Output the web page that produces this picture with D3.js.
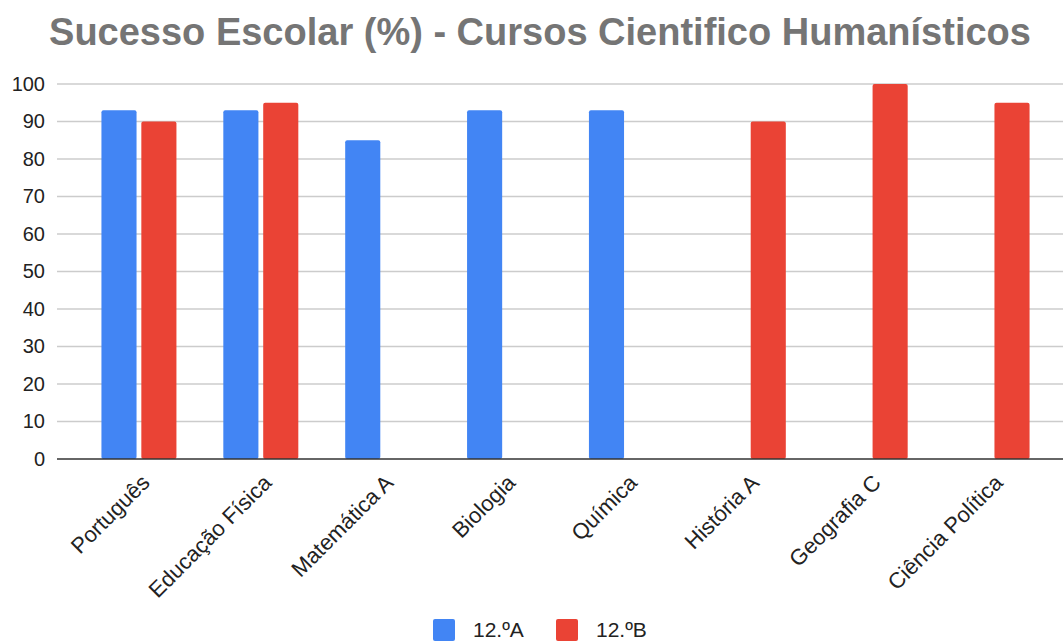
<!DOCTYPE html>
<html>
<head>
<meta charset="utf-8">
<script src="https://cdn.jsdelivr.net/npm/d3@7"></script>
<style>
  body { margin: 0; background: #fff; }
  text { font-family: "Liberation Sans", Arial, sans-serif; }
</style>
</head>
<body>
<div id="chart"></div>
<script>
// chart data
const subjects = ["Português", "Educação Física", "Matemática A", "Biologia",
                  "Química", "História A", "Geografia C", "Ciência Política"];
const series = ["12.ºA", "12.ºB"];
const valuesA = [93, 93, 85, 93, 93, null, null, null];
const valuesB = [90, 95, null, null, null, 90, 100, 95];
const yTicks = [0, 10, 20, 30, 40, 50, 60, 70, 80, 90, 100];
const colors = ["#4285F4", "#EA4335"];

const W = 1063, H = 642;
const plotLeft = 57, plotRight = 1063, plotTop = 84, plotBottom = 459;

const svg = d3.select("#chart").append("svg")
    .attr("width", W)
    .attr("height", H);

// title
svg.append("text")
    .attr("x", 540)
    .attr("y", 45)
    .attr("text-anchor", "middle")
    .style("font-size", "38px")
    .style("font-weight", "bold")
    .style("fill", "#757575")
    .text("Sucesso Escolar (%) - Cursos Cientifico Humanísticos");

// scales
const x = d3.scaleBand()
    .domain(subjects)
    .range([78, 1053]);

const xInner = d3.scaleBand()
    .domain(series)
    .range([0, 75])
    .paddingInner(0.12);

const y = d3.scaleLinear()
    .domain([0, 100])
    .range([plotBottom, plotTop]);

// gridlines
svg.append("g")
    .selectAll("line")
    .data(yTicks.filter(d => d > 0))
    .enter().append("line")
    .attr("x1", plotLeft)
    .attr("x2", plotRight)
    .attr("y1", d => y(d))
    .attr("y2", d => y(d))
    .style("stroke", "#cccccc")
    .style("stroke-width", 1.5);

// y tick labels
const yAxis = svg.append("g")
    .attr("transform", "translate(" + plotLeft + ",0)")
    .call(d3.axisLeft(y).tickValues(yTicks).tickSize(0).tickPadding(12));
yAxis.select(".domain").remove();
yAxis.selectAll("text")
    .style("font-size", "20px")
    .style("fill", "#222")
    .style("font-family", "'Liberation Sans', Arial, sans-serif");

// bars
const rows = subjects.map((s, i) => ({ subject: s, vals: [valuesA[i], valuesB[i]] }));
const offset = (x.bandwidth() - 75) / 2;

const groups = svg.selectAll(".grp")
    .data(rows)
    .enter().append("g")
    .attr("class", "grp")
    .attr("transform", d => "translate(" + (x(d.subject) + offset) + ",0)");

groups.selectAll("rect")
    .data(d => d.vals.map((v, j) => ({ key: series[j], v: v, j: j })).filter(e => e.v != null))
    .enter().append("rect")
    .attr("x", e => xInner(e.key))
    .attr("y", e => y(e.v))
    .attr("width", xInner.bandwidth())
    .attr("height", e => y(0) - y(e.v))
    .attr("rx", 2)
    .style("fill", e => colors[e.j]);

// baseline
svg.append("line")
    .attr("x1", plotLeft)
    .attr("x2", plotRight)
    .attr("y1", y(0))
    .attr("y2", y(0))
    .style("stroke", "#333")
    .style("stroke-width", 1.5);

// x labels, rotated
svg.append("g")
    .selectAll("text")
    .data(subjects)
    .enter().append("text")
    .attr("transform", d => "translate(" + (x(d) + x.bandwidth() / 2 + 12) + "," + (y(0) + 25) + ") rotate(-45)")
    .attr("text-anchor", "end")
    .style("font-size", "22px")
    .style("fill", "#222")
    .text(d => d);

// legend
const legend = svg.append("g")
    .selectAll("g")
    .data(series)
    .enter().append("g")
    .attr("transform", (d, i) => "translate(" + (433 + i * 123) + ",619)");

legend.append("rect")
    .attr("width", 22)
    .attr("height", 22)
    .attr("rx", 2)
    .style("fill", (d, i) => colors[i]);

legend.append("text")
    .attr("x", 40)
    .attr("y", 18)
    .style("font-size", "21px")
    .style("fill", "#222")
    .text(d => d);
</script>
</body>
</html>
